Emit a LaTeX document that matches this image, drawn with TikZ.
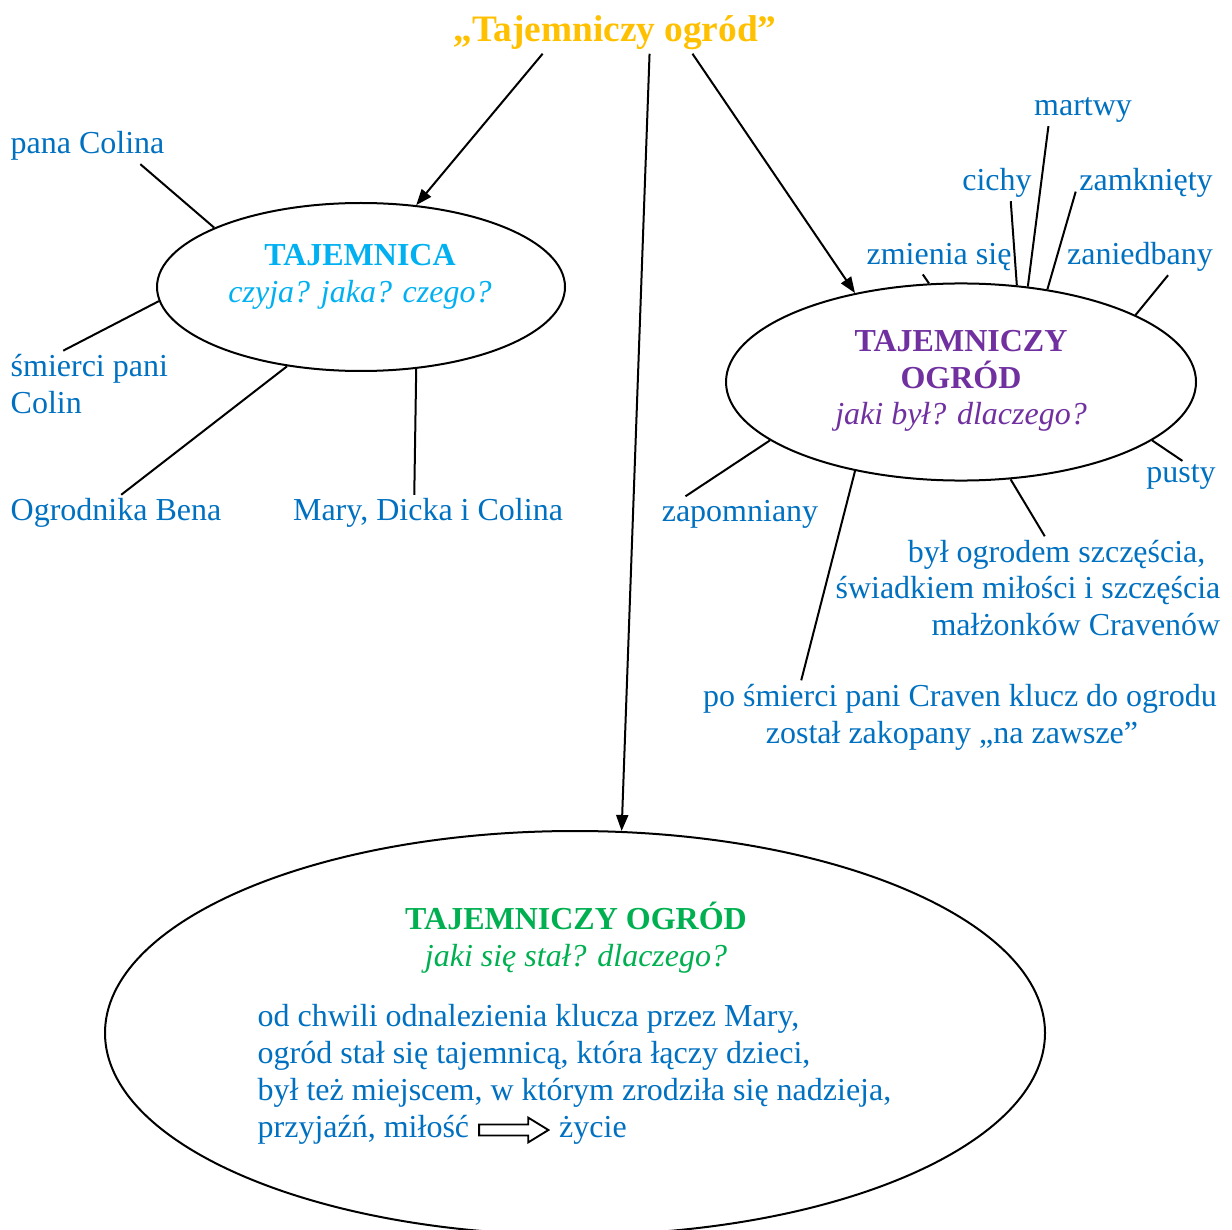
\documentclass[tikz,border=0pt]{standalone}
\usepackage{fontspec}
\setmainfont{Liberation Serif}
\usetikzlibrary{positioning}
\usetikzlibrary{arrows.meta}
\usetikzlibrary{shapes.geometric}
\usetikzlibrary{shapes.arrows}

\definecolor{zloty}{HTML}{FFC000}
\definecolor{niebieski}{HTML}{0070C0}
\definecolor{cyjan}{HTML}{00B0F0}
\definecolor{fiolet}{HTML}{7030A0}
\definecolor{zielony}{HTML}{00B050}

\begin{document}
\begin{tikzpicture}[%
  >={Triangle[length=6pt,width=4.5pt]},
  x=0.375pt, y=-0.375pt,
  line width=0.75pt,
  every node/.style={font=\fontsize{12}{13.8}\selectfont, inner sep=1pt},
  opis/.style={text=niebieski},
  owal/.style={draw, ellipse, inner sep=0pt}
]

  \useasboundingbox (0,0) rectangle (1232,1229);

  \node[font=\fontsize{14}{16}\selectfont\bfseries, text=zloty] (tytul) at (615,33) {„Tajemniczy ogród”};

  \node[owal, minimum width=153pt, minimum height=63pt] (tajemnica) at (361,287) {};
  \node[owal, minimum width=176.25pt, minimum height=73.9pt] (ogrodByl) at (961,382) {};
  \node[owal, minimum width=352.5pt, minimum height=151.5pt] (ogrodStal) at (575,1033) {};

  % tajemnica
  \node[text=cyjan, align=center] (tajemnicaTxt) at (360,277) {\textbf{TAJEMNICA}\\\textit{czyja? jaka? czego?}};
  \node[opis, anchor=west] (panaColina) at (7,146) {pana Colina};
  \node[opis, anchor=west, align=left] (smierci) at (7,384) {śmierci pani\\Colin};
  \node[opis, anchor=west] (ogrodnik) at (7,513) {Ogrodnika Bena};
  \node[opis] (dzieci) at (428,513) {Mary, Dicka i Colina};

  % jaki byl
  \node[text=fiolet, align=center] (ogrodBylTxt) at (961,381) {\textbf{TAJEMNICZY}\\\textbf{OGRÓD}\\\textit{jaki był? dlaczego?}};
  \node[opis] (martwy) at (1083,110) {martwy};
  \node[opis] (cichy) at (997,183) {cichy};
  \node[opis] (zamkniety) at (1146,183) {zamknięty};
  \node[opis] (zmienia) at (939,257) {zmienia się};
  \node[opis] (zaniedbany) at (1140,257) {zaniedbany};
  \node[opis] (pusty) at (1181,477) {pusty};
  \node[opis] (zapomniany) at (740,514) {zapomniany};
  \node[opis, anchor=east, align=right] (szczescie) at (1224,588) {był ogrodem szczęścia,\hspace*{5.6pt}\\świadkiem miłości i szczęścia\\małżonków Cravenów};
  \node[opis, align=center] (klucz) at (960,717) {po śmierci pani Craven klucz do ogrodu\\został zakopany „na zawsze”\hspace*{6pt}};

  % jaki sie stal
  \node[text=zielony, align=center] (ogrodStalTxt) at (576,938) {\textbf{TAJEMNICZY OGRÓD}\\\textit{jaki się stał? dlaczego?}};
  \node[opis, anchor=west, align=left] (odChwili) at (254,1056) {od chwili odnalezienia klucza przez Mary,\\ogród stał się tajemnicą, która łączy dzieci,\\był też miejscem, w którym zrodziła się nadzieja,};
  \node[opis, anchor=west] (przyjazn) at (254,1130) {przyjaźń, miłość};
  \node[draw, single arrow, minimum height=26pt, minimum width=8.6pt, inner sep=1.7pt,
        single arrow head extend=2.6pt, single arrow tip angle=63, line width=0.7pt,
        right=2pt of przyjazn] (strzalka) {};
  \node[opis, right=2pt of strzalka] (zycie) {życie};

  \draw[->] (tytul.-164) -- (tajemnica.56);
  \draw[->] (tytul.-31) -- (ogrodStal.77);
  \draw[->] (tytul.-15) -- (ogrodByl.140);

  \draw (tajemnica.158) -- (panaColina.-19);
  \draw (tajemnica.184) -- (smierci.128);
  \draw (tajemnica.227) -- (ogrodnik.74);
  \draw (tajemnica.-56) -- (dzieci.127);

  \draw (ogrodByl.108) -- (zmienia.-133);
  \draw (ogrodByl.60) -- (cichy.-53);
  \draw (ogrodByl.55) -- (martwy.-155);
  \draw (ogrodByl.47) -- (zamkniety.-173);
  \draw (ogrodByl.21) -- (zaniedbany.-33);
  \draw (ogrodByl.-17) -- (pusty.85);
  \draw (ogrodByl.197) -- (zapomniany.162);
  \draw (ogrodByl.-63) -- (szczescie.72);
  \draw (ogrodByl.220) -- (klucz.167);

\end{tikzpicture}
\end{document}
